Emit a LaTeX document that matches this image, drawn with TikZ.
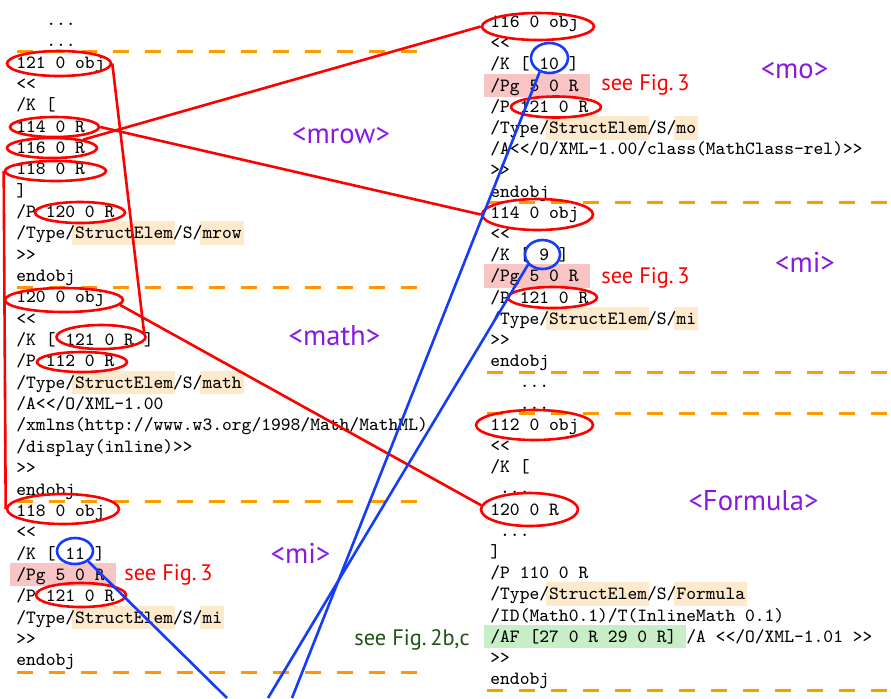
\documentclass[tikz,border=0pt]{standalone}
\usepackage{fontspec}
\newfontfamily\labfont{PT Sans}
\usetikzlibrary{shapes.geometric}
\definecolor{peach}{RGB}{253,233,204}
\definecolor{pinkhl}{RGB}{248,196,196}
\definecolor{greenhl}{RGB}{200,238,200}
\definecolor{dashorange}{RGB}{255,153,0}
\definecolor{linkblue}{RGB}{20,60,250}
\definecolor{tagpurple}{RGB}{135,25,225}
\definecolor{figgreen}{RGB}{30,85,20}
\newcommand\codefont{\fontsize{9.33}{11}\selectfont\ttfamily}
\newcommand\hlbox[5]{\fill[#1] ({#2+#4*9.8-2.5},{#3-17.5}) rectangle ({#2+#5*9.8+2.5},{#3+6});}
\tikzset{
  code/.style={anchor=base west, inner sep=0pt, font=\codefont},
  taglab/.style={anchor=base, inner sep=0pt, text=tagpurple, font=\labfont\fontsize{14.3}{16}\selectfont},
  seelab/.style={anchor=base, inner sep=0pt, font=\labfont\fontsize{11.2}{13}\selectfont},
  redell/.style={draw=red, line width=1.3pt, ellipse, inner sep=0pt},
  blueell/.style={draw=linkblue, line width=1.3pt, ellipse, inner sep=0pt},
  redlink/.style={draw=red, line width=1.3pt},
  bluelink/.style={draw=linkblue, line width=1.3pt},
  sep/.style={draw=dashorange, line width=1.5pt, dash pattern=on 7.75pt off 8.25pt}
}
\begin{document}
\begin{tikzpicture}[x=0.5pt, y=-0.5pt]
\useasboundingbox (0,0) rectangle (891,698);
% highlights
\hlbox{peach}{16}{238.8}{6}{16}
\hlbox{peach}{16}{238.8}{19}{23}
\hlbox{peach}{16}{388.25}{6}{16}
\hlbox{peach}{16}{388.25}{19}{23}
\hlbox{pinkhl}{16}{580.4}{-0.4}{9.9}
\hlbox{peach}{16}{623.1}{6}{16}
\hlbox{peach}{16}{623.1}{19}{21}
\hlbox{pinkhl}{490}{91.1}{-0.4}{9.9}
\hlbox{peach}{490}{133.5}{6}{16}
\hlbox{peach}{490}{133.5}{19}{21}
\hlbox{pinkhl}{490}{281.9}{-0.4}{9.9}
\hlbox{peach}{490}{324.3}{6}{16}
\hlbox{peach}{490}{324.3}{19}{21}
\hlbox{peach}{490}{599.9}{6}{16}
\hlbox{peach}{490}{599.9}{19}{26}
\hlbox{greenhl}{490}{642.3}{-0.35}{19.7}
% separators
\draw[sep] (17,51.5) -- (417,51.5);
\draw[sep] (17,287) -- (417,287);
\draw[sep] (17,501) -- (417,501);
\draw[sep] (17,672) -- (417,672);
\draw[sep] (487,202) -- (891,202);
\draw[sep] (487,372) -- (891,372);
\draw[sep] (487,413) -- (891,413);
\draw[sep] (487,690) -- (891,690);
% left column
\node[code] (Lda) at (46,{68-21.35*2}) {...};
\node[code] (Ldb) at (46,{68-21.35*1}) {...};
\node[code] (L0) at (16,{68+21.35*0}) {121 0 obj};
\node[code] (L1) at (16,{68+21.35*1}) {<<};
\node[code] (L2) at (16,{68+21.35*2}) {/K [};
\node[code] (L3) at (16,{68+21.35*3}) {114 0 R};
\node[code] (L4) at (16,{68+21.35*4}) {116 0 R};
\node[code] (L5) at (16,{68+21.35*5}) {118 0 R};
\node[code] (L6) at (16,{68+21.35*6}) {]};
\node[code] (L7) at (16,{68+21.35*7}) {/P 120 0 R};
\node[code] (L8) at (16,{68+21.35*8}) {/Type/StructElem/S/mrow};
\node[code] (L9) at (16,{68+21.35*9}) {>>};
\node[code] (L10) at (16,{68+21.35*10}) {endobj};
\node[code] (L11) at (16,{68+21.35*11}) {120 0 obj};
\node[code] (L12) at (16,{68+21.35*12}) {<<};
\node[code] (L13) at (16,{68+21.35*13}) {/K [ 121 0 R ]};
\node[code] (L14) at (16,{68+21.35*14}) {/P 112 0 R};
\node[code] (L15) at (16,{68+21.35*15}) {/Type/StructElem/S/math};
\node[code] (L16) at (16,{68+21.35*16}) {/A<</O/XML-1.00};
\node[code] (L17) at (16,{68+21.35*17}) {/xmlns(http://www.w3.org/1998/Math/MathML)};
\node[code] (L18) at (16,{68+21.35*18}) {/display(inline)>>};
\node[code] (L19) at (16,{68+21.35*19}) {>>};
\node[code] (L20) at (16,{68+21.35*20}) {endobj};
\node[code] (L21) at (16,{68+21.35*21}) {118 0 obj};
\node[code] (L22) at (16,{68+21.35*22}) {<<};
\node[code] (L23) at (16,{68+21.35*23}) {/K [ 11 ]};
\node[code] (L24) at (16,{68+21.35*24}) {/Pg 5 0 R};
\node[code] (L25) at (16,{68+21.35*25}) {/P 121 0 R};
\node[code] (L26) at (16,{68+21.35*26}) {/Type/StructElem/S/mi};
\node[code] (L27) at (16,{68+21.35*27}) {>>};
\node[code] (L28) at (16,{68+21.35*28}) {endobj};
% right column
\node[code] (R0) at (490,{27.5+21.2*0}) {116 0 obj};
\node[code] (R1) at (490,{27.5+21.2*1}) {<<};
\node[code] (R2) at (490,{27.5+21.2*2}) {/K [ 10 ]};
\node[code] (R3) at (490,{27.5+21.2*3}) {/Pg 5 0 R};
\node[code] (R4) at (490,{27.5+21.2*4}) {/P 121 0 R};
\node[code] (R5) at (490,{27.5+21.2*5}) {/Type/StructElem/S/mo};
\node[code] (R6) at (490,{27.5+21.2*6}) {/A<</O/XML-1.00/class(MathClass-rel)>>};
\node[code] (R7) at (490,{27.5+21.2*7}) {>>};
\node[code] (R8) at (490,{27.5+21.2*8}) {endobj};
\node[code] (R9) at (490,{27.5+21.2*9}) {114 0 obj};
\node[code] (R10) at (490,{27.5+21.2*10}) {<<};
\node[code] (R11) at (490,{27.5+21.2*11}) {/K [ 9 ]};
\node[code] (R12) at (490,{27.5+21.2*12}) {/Pg 5 0 R};
\node[code] (R13) at (490,{27.5+21.2*13}) {/P 121 0 R};
\node[code] (R14) at (490,{27.5+21.2*14}) {/Type/StructElem/S/mi};
\node[code] (R15) at (490,{27.5+21.2*15}) {>>};
\node[code] (R16) at (490,{27.5+21.2*16}) {endobj};
\node[code] (R17) at (519.4,{27.5+21.2*17}) {...};
\node[code] (R18) at (519.4,{27.5+21.2*18}) {...};
\node[code] (R19) at (490,{27.5+21.2*19}) {112 0 obj};
\node[code] (R20) at (490,{27.5+21.2*20}) {<<};
\node[code] (R21) at (490,{27.5+21.2*21}) {/K [};
\node[code] (R22) at (499.8,{27.5+21.2*22}) {...};
\node[code] (R23) at (490,{27.5+21.2*23}) {120 0 R};
\node[code] (R24) at (499.8,{27.5+21.2*24}) {...};
\node[code] (R25) at (490,{27.5+21.2*25}) {]};
\node[code] (R26) at (490,{27.5+21.2*26}) {/P 110 0 R};
\node[code] (R27) at (490,{27.5+21.2*27}) {/Type/StructElem/S/Formula};
\node[code] (R28) at (490,{27.5+21.2*28}) {/ID(Math0.1)/T(InlineMath 0.1)};
\node[code] (R29) at (490,{27.5+21.2*29}) {/AF [27 0 R 29 0 R] /A <</O/XML-1.01 >>};
\node[code] (R30) at (490,{27.5+21.2*30}) {>>};
\node[code] (R31) at (490,{27.5+21.2*31}) {endobj};
% labels
\node[taglab] (tmrow) at (341,143) {<mrow>};
\node[taglab] (tmath) at (334.5,345) {<math>};
\node[taglab] (tmil) at (300.5,563) {<mi>};
\node[taglab] (tmo) at (794.5,78) {<mo>};
\node[taglab] (tmir) at (805,272) {<mi>};
\node[taglab] (tform) at (753.5,510) {<Formula>};
\node[seelab, text=red] (sfa) at (168.5,580) {see Fig.\,3};
\node[seelab, text=red] (sfb) at (645.5,90) {see Fig.\,3};
\node[seelab, text=red] (sfc) at (645.5,283) {see Fig.\,3};
\node[seelab, text=figgreen] (sfd) at (412,645) {see Fig.\,2b,c};
% ellipses left
\node[redell, minimum width=52pt, minimum height=12.5pt] (E121obj) at (59,63.5) {};
\node[redell, minimum width=44.5pt, minimum height=10pt] (E114R) at (54.5,127) {};
\node[redell, minimum width=45pt, minimum height=10pt] (E116R) at (52,148) {};
\node[redell, minimum width=50.5pt, minimum height=10pt] (E118R) at (55.5,171) {};
\node[redell, minimum width=45pt, minimum height=10.5pt] (EP120R) at (80,212.5) {};
\node[redell, minimum width=59pt, minimum height=12pt] (E120obj) at (64,300) {};
\node[redell, minimum width=44.5pt, minimum height=12pt] (EK121R) at (101,337) {};
\node[redell, minimum width=45pt, minimum height=10pt] (EP112R) at (82,362) {};
\node[redell, minimum width=56pt, minimum height=15pt] (E118obj) at (63,509) {};
\node[blueell, minimum width=18pt, minimum height=13pt] (B11) at (75,551) {};
\node[redell, minimum width=45pt, minimum height=12pt] (EP121Rl) at (81,595) {};
% ellipses right
\node[redell, minimum width=56pt, minimum height=13.5pt] (E116obj) at (538,26.5) {};
\node[blueell, minimum width=18.5pt, minimum height=15pt] (B10) at (549.5,58) {};
\node[redell, minimum width=45pt, minimum height=10.5pt] (EP121Ra) at (556,107) {};
\node[redell, minimum width=55.5pt, minimum height=15.5pt] (E114obj) at (537.5,214.5) {};
\node[blueell, minimum width=17.5pt, minimum height=14.5pt] (B9) at (542.5,254.5) {};
\node[redell, minimum width=44.5pt, minimum height=10.5pt] (EP121Rb) at (552.5,297.5) {};
\node[redell, minimum width=58.5pt, minimum height=15pt] (E112obj) at (534.5,425) {};
\node[redell, minimum width=48.5pt, minimum height=16.5pt] (E120Rr) at (529.5,509.5) {};
% free ends at the bottom edge
\coordinate (bot11) at (227,698);
\coordinate (bot9) at (268,698);
\coordinate (bot10) at (292,698);
% red links
\draw[redlink] (E121obj.east) -- (EK121R.6);
\draw[redlink] (E118R.west) -- (E118obj.west);
\draw[redlink] (E114R.east) -- (E114obj.west);
\draw[redlink] (E116R.15) -- (E116obj.west);
\draw[redlink] (E120obj.-5) -- (E120Rr.175);
% blue links
\draw[bluelink] (B11.-38) -- (bot11);
\draw[bluelink] (B10.235) -- (bot10);
\draw[bluelink] (B9.215) -- (bot9);
\end{tikzpicture}
\end{document}
